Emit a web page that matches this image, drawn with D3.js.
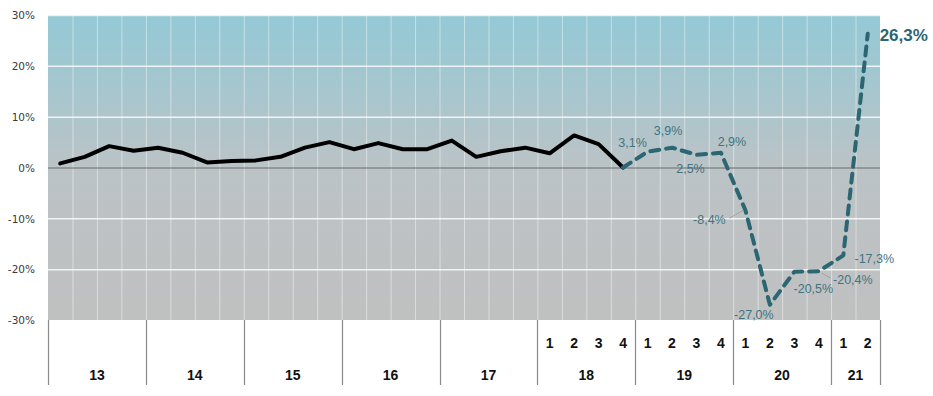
<!DOCTYPE html>
<html>
<head>
<meta charset="utf-8">
<script src="https://cdn.jsdelivr.net/npm/d3@7"></script>
<style>
  body { margin: 0; background: #fff; }
  svg { display: block; }
</style>
</head>
<body>
<svg id="chart"></svg>
<script>
// data
const years = ["13", "14", "15", "16", "17", "18", "19", "20", "21"];
const quartersPerYear = [4, 4, 4, 4, 4, 4, 4, 4, 2];
const yearsWithQuarterLabels = ["18", "19", "20", "21"];
const actualValues = [0.8, 2.1, 4.2, 3.3, 3.9, 2.9, 1.0, 1.3, 1.4, 2.1, 3.9, 5.0,
    3.6, 4.8, 3.6, 3.6, 5.3, 2.1, 3.2, 3.9, 2.8, 6.3, 4.6, 0.0];
const forecastValues = [0.0, 3.1, 3.9, 2.5, 2.9, -8.4, -27.0, -20.5, -20.4, -17.3, 26.3];
const forecastStart = 23; // index of the quarter where the dashed series begins
const yTicks = [-30, -20, -10, 0, 10, 20, 30];

// label placement (offsets from the point, in px)
const labelOffsets = [null, [-15, -9], [-4, -17], [-6, 14], [11, -11], [-36, 9],
    [-16, 10], [19, 17], [34, 8], [31, 3], [36, 1]];
const leaderLines = { 5: [[-16, 8], [-2, 0]], 8: [[12, 7], [3, 2]] };

const width = 933, height = 396;
const margin = { top: 15, left: 48, right: 53, bottom: 76 };

const svg = d3.select("#chart").attr("width", width).attr("height", height);

// quarter keys
const quarters = [];
years.forEach((y, yi) => {
    for (let q = 1; q <= quartersPerYear[yi]; q++) quarters.push({ year: y, q: q, key: y + "-" + q });
});

const x = d3.scaleBand()
    .domain(quarters.map(d => d.key))
    .range([margin.left, width - margin.right]);

const y = d3.scaleLinear()
    .domain([-30, 30])
    .range([height - margin.bottom, margin.top]);

const cx = i => x(quarters[i].key) + x.bandwidth() / 2;

// background gradient
const defs = svg.append("defs");
const grad = defs.append("linearGradient")
    .attr("id", "bg")
    .attr("x1", 0).attr("y1", 0).attr("x2", 0).attr("y2", 1);
grad.append("stop").attr("offset", "0%").attr("stop-color", "#93c9d6");
grad.append("stop").attr("offset", "50%").attr("stop-color", "#bbc3c6");
grad.append("stop").attr("offset", "100%").attr("stop-color", "#c0c0c0");

svg.append("rect")
    .attr("x", x.range()[0])
    .attr("y", y(30))
    .attr("width", x.range()[1] - x.range()[0])
    .attr("height", y(-30) - y(30))
    .attr("fill", "url(#bg)");

// grid
svg.append("g")
    .selectAll("line")
    .data(quarters.slice(1))
    .join("line")
    .attr("x1", d => x(d.key) + 0.5)
    .attr("x2", d => x(d.key) + 0.5)
    .attr("y1", y(30))
    .attr("y2", y(-30))
    .attr("stroke", "#ffffff")
    .attr("stroke-opacity", 0.45)
    .attr("stroke-width", 1);

svg.append("g")
    .selectAll("line")
    .data(yTicks.filter(t => t !== 0 && t !== -30))
    .join("line")
    .attr("x1", x.range()[0])
    .attr("x2", x.range()[1])
    .attr("y1", d => y(d) + 0.5)
    .attr("y2", d => y(d) + 0.5)
    .attr("stroke", "#ffffff")
    .attr("stroke-opacity", 0.8)
    .attr("stroke-width", 1.5);

// zero line
svg.append("line")
    .attr("x1", x.range()[0])
    .attr("x2", x.range()[1])
    .attr("y1", y(0) + 0.5)
    .attr("y2", y(0) + 0.5)
    .attr("stroke", "#6b6b6b")
    .attr("stroke-width", 1);

// y axis
const yAxis = d3.axisLeft(y)
    .tickValues(yTicks)
    .tickSize(0)
    .tickPadding(13)
    .tickFormat(d => d + "%");

svg.append("g")
    .attr("transform", `translate(${margin.left},0)`)
    .call(yAxis)
    .call(g => g.select(".domain").remove())
    .call(g => g.selectAll("text")
        .attr("font-family", "DejaVu Sans")
        .attr("font-size", 10.5)
        .attr("fill", "#3a3a3a")
        .attr("dy", "0.35em"));

// category axis: year separators, quarter and year labels
const axisTop = y(-30);
let start = 0;
const yearSpans = years.map((yr, yi) => {
    const s = { year: yr, first: start, last: start + quartersPerYear[yi] - 1 };
    start += quartersPerYear[yi];
    return s;
});

const sepX = yearSpans.map(s => x(quarters[s.first].key)).concat([x.range()[1]]);
svg.append("g")
    .selectAll("line")
    .data(sepX)
    .join("line")
    .attr("x1", d => Math.round(d) + 0.5)
    .attr("x2", d => Math.round(d) + 0.5)
    .attr("y1", axisTop)
    .attr("y2", axisTop + 65)
    .attr("stroke", "#8a8a8a")
    .attr("stroke-width", 1.2);

svg.append("g")
    .selectAll("text")
    .data(quarters.filter(d => yearsWithQuarterLabels.includes(d.year)))
    .join("text")
    .attr("x", d => x(d.key) + x.bandwidth() / 2)
    .attr("y", axisTop + 28)
    .attr("text-anchor", "middle")
    .attr("font-family", "Liberation Sans, Arial, sans-serif")
    .attr("font-weight", "bold")
    .attr("font-size", 14)
    .attr("fill", "#111")
    .text(d => d.q);

svg.append("g")
    .selectAll("text")
    .data(yearSpans)
    .join("text")
    .attr("x", d => (x(quarters[d.first].key) + x(quarters[d.last].key) + x.bandwidth()) / 2)
    .attr("y", axisTop + 60)
    .attr("text-anchor", "middle")
    .attr("font-family", "Liberation Sans, Arial, sans-serif")
    .attr("font-weight", "bold")
    .attr("font-size", 14)
    .attr("fill", "#111")
    .text(d => d.year);

// lines
const line = d3.line()
    .x(d => cx(d.i))
    .y(d => y(d.v));

svg.append("path")
    .datum(actualValues.map((v, i) => ({ i: i, v: v })))
    .attr("d", line)
    .attr("fill", "none")
    .attr("stroke", "#000")
    .attr("stroke-width", 4)
    .attr("stroke-linejoin", "round")
    .attr("stroke-linecap", "round");

const forecastData = forecastValues.map((v, k) => ({ i: forecastStart + k, v: v, k: k }));

svg.append("path")
    .datum(forecastData)
    .attr("d", line)
    .attr("fill", "none")
    .attr("stroke", "#2b6672")
    .attr("stroke-width", 4)
    .attr("stroke-dasharray", "9,7")
    .attr("stroke-linejoin", "round")
    .attr("stroke-linecap", "round");

// leader lines
svg.append("g")
    .selectAll("line")
    .data(Object.keys(leaderLines).map(k => ({ d: forecastData[+k], seg: leaderLines[k] })))
    .join("line")
    .attr("x1", d => cx(d.d.i) + d.seg[0][0])
    .attr("y1", d => y(d.d.v) + d.seg[0][1])
    .attr("x2", d => cx(d.d.i) + d.seg[1][0])
    .attr("y2", d => y(d.d.v) + d.seg[1][1])
    .attr("stroke", "#9a9a9a")
    .attr("stroke-width", 0.8);

// data labels
const fmt = v => v.toFixed(1).replace(".", ",") + "%";
const lastK = forecastValues.length - 1;

svg.append("g")
    .selectAll("text")
    .data(forecastData.filter(d => labelOffsets[d.k]))
    .join("text")
    .attr("x", d => cx(d.i) + labelOffsets[d.k][0])
    .attr("y", d => y(d.v) + labelOffsets[d.k][1])
    .attr("dy", "0.35em")
    .attr("text-anchor", "middle")
    .attr("font-family", "Liberation Sans, Arial, sans-serif")
    .attr("font-size", d => d.k === lastK ? 17 : 12.5)
    .attr("font-weight", d => d.k === lastK ? "bold" : "normal")
    .attr("fill", d => d.k === lastK ? "#2b6672" : "#3f7480")
    .text(d => fmt(d.v));
</script>
</body>
</html>
